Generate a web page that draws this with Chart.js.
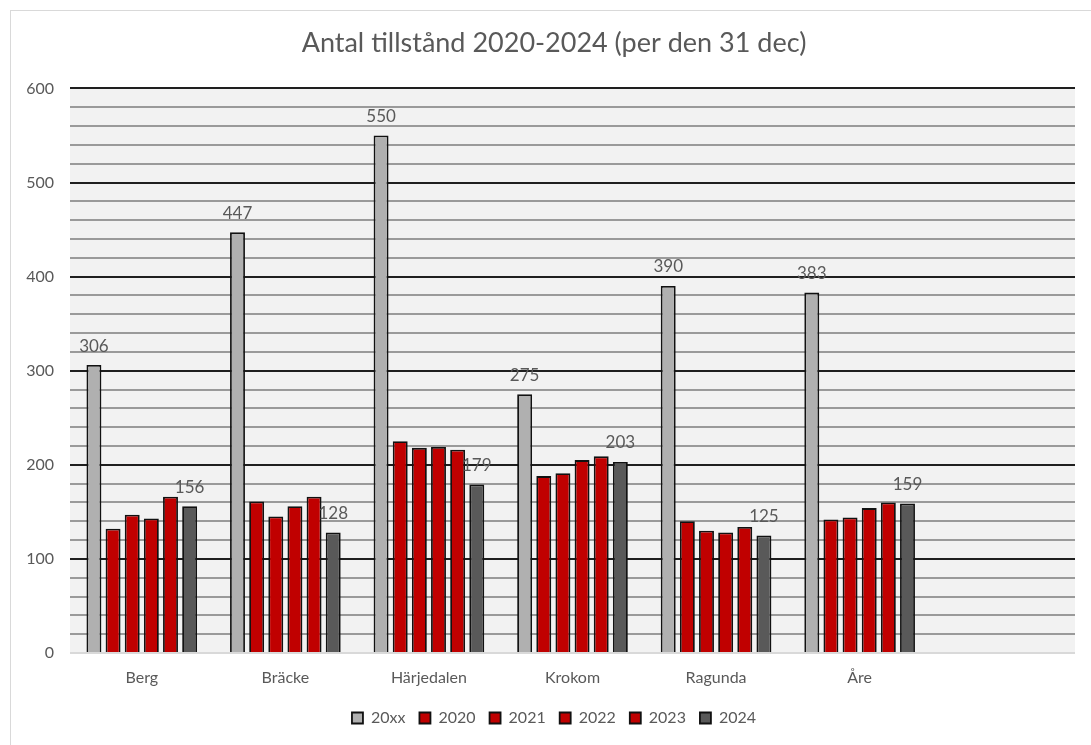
<!DOCTYPE html>
<html>
<head>
<meta charset="utf-8">
<script src="https://cdn.jsdelivr.net/npm/chart.js@4/dist/chart.umd.min.js"></script>
<style>
  html, body { margin: 0; padding: 0; background: #ffffff; overflow: hidden; }
  #wrap { position: relative; width: 1091px; height: 745px; overflow: hidden; }
  #frame { position: absolute; left: 10px; top: 10px; width: 1200px; height: 900px; border: 1px solid #d9d9d9; box-sizing: border-box; }
  canvas { position: absolute; left: 0; top: 0; }
</style>
</head>
<body>
<div id="wrap">
  <div id="frame"></div>
  <canvas id="c" width="1091" height="745"></canvas>
</div>
<script>
const title = "Antal tillstånd 2020-2024 (per den 31 dec)";
const categories = ["Berg", "Bräcke", "Härjedalen", "Krokom", "Ragunda", "Åre", ""];
const seriesNames = ["20xx", "2020", "2021", "2022", "2023", "2024"];
const v20xx = [306, 447, 550, 275, 390, 383, null];
const v2020 = [132, 161, 225, 188, 140, 142, null];
const v2021 = [147, 145, 218, 191, 130, 144, null];
const v2022 = [143, 156, 219, 205, 128, 154, null];
const v2023 = [166, 166, 216, 209, 134, 160, null];
const v2024 = [156, 128, 179, 203, 125, 159, null];
const labelledSeries = [0, 5];

const colors = ["#b0b0b0", "#c00000", "#c00000", "#c00000", "#c00000", "#595959"];
const values = [v20xx, v2020, v2021, v2022, v2023, v2024];
const FONT = "Lato, 'Open Sans', sans-serif";
const TXT = "#595959";

const datasets = seriesNames.map((n, i) => ({
  label: n,
  data: values[i],
  backgroundColor: colors[i],
  borderColor: "#111111",
  borderWidth: 1.8,
  categoryPercentage: 0.80,
  barPercentage: 0.78
}));

const valueLabels = {
  id: "valueLabels",
  afterDatasetsDraw(chart) {
    const ctx = chart.ctx;
    ctx.save();
    ctx.font = "17px " + FONT;
    ctx.fillStyle = TXT;
    ctx.textAlign = "center";
    ctx.textBaseline = "middle";
    labelledSeries.forEach(di => {
      const meta = chart.getDatasetMeta(di);
      meta.data.forEach((el, j) => {
        const v = chart.data.datasets[di].data[j];
        if (v == null) return;
        ctx.fillText(String(v), el.x, el.y - 19);
      });
    });
    ctx.restore();
  }
};

const areaBg = {
  id: "areaBg",
  afterLayout(chart) {
    // let the y tick labels use the space left of the axis box
    chart.scales.y.left = 0;
  },
  beforeDraw(chart) {
    const a = chart.chartArea, ctx = chart.ctx;
    ctx.save();
    ctx.fillStyle = "#f2f2f2";
    ctx.fillRect(a.left, a.top, a.right - a.left, a.bottom - a.top);
    ctx.restore();
  }
};

new Chart(document.getElementById("c"), {
  type: "bar",
  data: { labels: categories, datasets },
  plugins: [areaBg, valueLabels],
  options: {
    responsive: false,
    animation: false,
    layout: { padding: { left: 33, right: 16, top: 0, bottom: 9 } },
    plugins: {
      title: {
        display: true, text: title, color: TXT,
        font: { family: FONT, size: 27, weight: "normal" },
        padding: { top: 27, bottom: 29 }
      },
      legend: {
        position: "bottom",
        labels: {
          color: TXT, font: { family: FONT, size: 16 },
          boxWidth: 11, boxHeight: 11, padding: 14
        }
      },
      tooltip: { enabled: false }
    },
    scales: {
      x: {
        grid: { display: false, drawTicks: false },
        border: { display: false },
        ticks: { color: TXT, font: { family: FONT, size: 16 }, padding: 15 },
        afterFit(s) { s.height = 43; }
      },
      y: {
        min: 0, max: 600,
        ticks: {
          stepSize: 20, autoSkip: false, maxTicksLimit: 100,
          color: TXT, font: { family: FONT, size: 16 }, padding: 16,
          callback: v => (v % 100 === 0 ? v : "")
        },
        grid: {
          drawTicks: false,
          color: c => c.tick.value === 0 ? "#d9d9d9" : (c.tick.value % 100 === 0 ? "#1f1f1f" : "#9a9a9a"),
          lineWidth: 2
        },
        border: { display: false },
        afterFit(s) { s.width = 37; }
      }
    }
  }
});
</script>
</body>
</html>
